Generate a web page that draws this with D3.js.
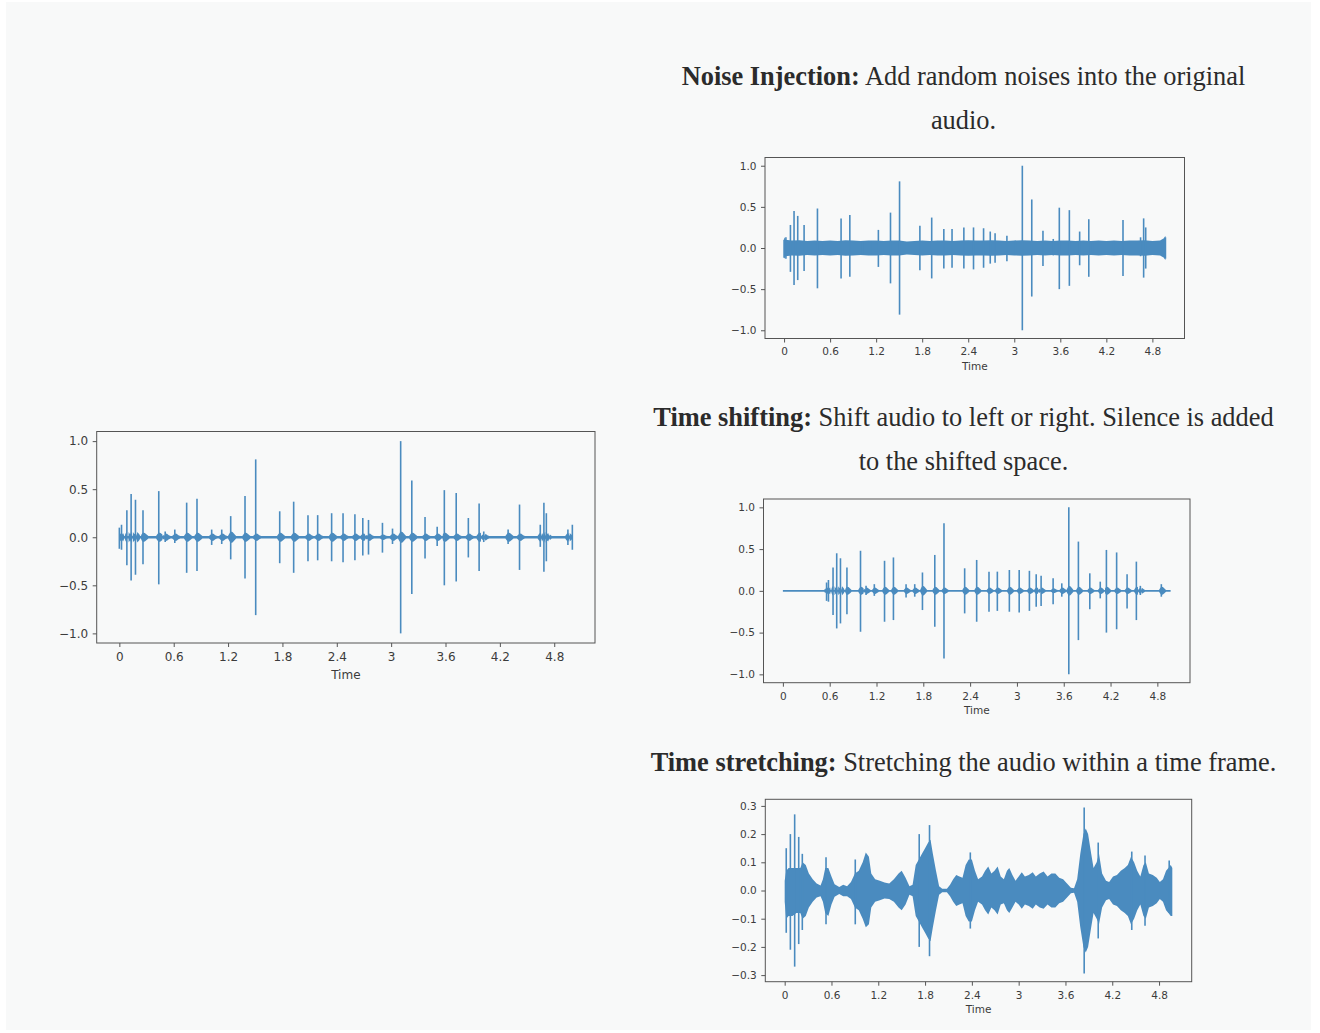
<!DOCTYPE html>
<html>
<head>
<meta charset="utf-8">
<script src="https://cdn.jsdelivr.net/npm/d3@7"></script>
<style>
  html, body { margin: 0; padding: 0; background: #ffffff; }
  svg { display: block; }
</style>
</head>
<body>
<svg id="fig" width="1320" height="1033"></svg>
<script>
// ---------------- data ----------------
const timeTicks = [0, 0.6, 1.2, 1.8, 2.4, 3.0, 3.6, 4.2, 4.8];
const timeTickLabels = ["0", "0.6", "1.2", "1.8", "2.4", "3", "3.6", "4.2", "4.8"];
const ampTicks = [-1, -0.5, 0, 0.5, 1];
const ampTickLabels = ["−1.0", "−0.5", "0.0", "0.5", "1.0"];
const stretchAmpTicks = [-0.3, -0.2, -0.1, 0, 0.1, 0.2, 0.3];
const stretchAmpTickLabels = ["−0.3", "−0.2", "−0.1", "0.0", "0.1", "0.2", "0.3"];

const clipDuration = 5.0;        // seconds, original clip
const augmentedDuration = 4.97;  // seconds, augmented clips
const shiftOffset = 0.56;        // seconds of silence inserted at the start

// original clip onsets: [time s, peak, trough, ring amplitude]
const originalOnsets = [
  [0.000, 0.10, -0.12, 0.05], [0.024, 0.13, -0.13, 0.05], [0.083, 0.28, -0.29, 0.06],
  [0.130, 0.45, -0.45, 0.06], [0.178, 0.39, -0.39, 0.06], [0.261, 0.28, -0.28, 0.05],
  [0.435, 0.48, -0.49, 0.05], [0.506, 0.06, -0.05, 0.04], [0.612, 0.08, -0.06, 0.04],
  [0.743, 0.36, -0.37, 0.05], [0.857, 0.40, -0.35, 0.05], [1.019, 0.08, -0.08, 0.04],
  [1.130, 0.08, -0.07, 0.04], [1.229, 0.22, -0.23, 0.06], [1.387, 0.43, -0.43, 0.05],
  [1.505, 0.81, -0.81, 0.04], [1.770, 0.27, -0.27, 0.05], [1.924, 0.37, -0.37, 0.05],
  [2.082, 0.23, -0.25, 0.04], [2.189, 0.23, -0.24, 0.04], [2.343, 0.25, -0.25, 0.05],
  [2.469, 0.25, -0.26, 0.04], [2.600, 0.24, -0.24, 0.04], [2.687, 0.20, -0.19, 0.04],
  [2.750, 0.18, -0.18, 0.04], [2.904, 0.15, -0.16, 0.03], [3.015, 0.09, -0.07, 0.04],
  [3.105, 1.00, -1.00, 0.06], [3.228, 0.59, -0.59, 0.05], [3.374, 0.21, -0.22, 0.04],
  [3.508, 0.11, -0.09, 0.04], [3.587, 0.49, -0.50, 0.05], [3.718, 0.46, -0.46, 0.04],
  [3.852, 0.20, -0.21, 0.04], [3.971, 0.35, -0.35, 0.05], [4.022, 0.06, -0.05, 0.04],
  [4.291, 0.08, -0.07, 0.05], [4.417, 0.34, -0.34, 0.04], [4.646, 0.13, -0.10, 0.05],
  [4.686, 0.36, -0.36, 0.06], [4.713, 0.25, -0.25, 0.05], [4.951, 0.08, -0.08, 0.05],
  [5.000, 0.13, -0.13, 0.05]
];

// injected noise floor: [time s, level]
const noiseFloor = [
  [0.00, 0.13], [0.02, 0.10], [0.10, 0.09], [0.20, 0.095], [0.30, 0.085], [0.40, 0.09],
  [0.50, 0.085], [0.60, 0.09], [0.70, 0.085], [0.80, 0.095], [0.90, 0.09], [1.00, 0.085],
  [1.10, 0.09], [1.20, 0.09], [1.30, 0.085], [1.40, 0.09], [1.50, 0.09], [1.60, 0.08],
  [1.70, 0.085], [1.80, 0.09], [1.90, 0.085], [2.00, 0.09], [2.10, 0.09], [2.20, 0.085],
  [2.30, 0.09], [2.40, 0.095], [2.50, 0.09], [2.60, 0.09], [2.70, 0.095], [2.80, 0.09],
  [2.90, 0.085], [3.00, 0.09], [3.10, 0.095], [3.20, 0.09], [3.30, 0.085], [3.40, 0.09],
  [3.50, 0.085], [3.60, 0.09], [3.70, 0.09], [3.80, 0.085], [3.90, 0.09], [4.00, 0.085],
  [4.10, 0.09], [4.20, 0.085], [4.30, 0.09], [4.40, 0.085], [4.50, 0.09], [4.60, 0.09],
  [4.70, 0.095], [4.80, 0.085], [4.90, 0.09], [4.95, 0.12], [4.97, 0.15]
];

// time-stretched clip envelope: [time s, upper, lower]
const stretchedEnvelope = [
  [0.00, 0.035, -0.04], [0.02, 0.07, -0.10], [0.05, 0.08, -0.09], [0.10, 0.08, -0.09],
  [0.15, 0.08, -0.08], [0.20, 0.08, -0.08], [0.23, 0.10, -0.10], [0.27, 0.09, -0.09],
  [0.31, 0.06, -0.06], [0.36, 0.04, -0.04], [0.41, 0.025, -0.025], [0.46, 0.018, -0.02],
  [0.49, 0.04, -0.04], [0.52, 0.08, -0.08], [0.56, 0.08, -0.09], [0.60, 0.05, -0.05],
  [0.64, 0.022, -0.022], [0.70, 0.012, -0.012], [0.75, 0.02, -0.02], [0.80, 0.015, -0.02],
  [0.85, 0.03, -0.03], [0.90, 0.06, -0.06], [0.95, 0.07, -0.07], [1.00, 0.10, -0.10],
  [1.04, 0.135, -0.13], [1.08, 0.12, -0.12], [1.11, 0.06, -0.06], [1.16, 0.04, -0.04],
  [1.22, 0.035, -0.035], [1.28, 0.028, -0.028], [1.34, 0.025, -0.03], [1.40, 0.04, -0.04],
  [1.46, 0.06, -0.06], [1.50, 0.07, -0.07], [1.55, 0.045, -0.05], [1.60, 0.015, -0.015],
  [1.64, 0.02, -0.02], [1.68, 0.09, -0.09], [1.72, 0.11, -0.11], [1.76, 0.13, -0.13],
  [1.80, 0.15, -0.15], [1.84, 0.17, -0.17], [1.87, 0.18, -0.18], [1.90, 0.13, -0.13],
  [1.94, 0.07, -0.07], [1.98, 0.015, -0.015], [2.02, 0.006, -0.006], [2.08, 0.006, -0.006],
  [2.12, 0.02, -0.02], [2.16, 0.04, -0.04], [2.20, 0.055, -0.055], [2.24, 0.05, -0.05],
  [2.28, 0.045, -0.045], [2.32, 0.09, -0.09], [2.36, 0.11, -0.11], [2.40, 0.11, -0.11],
  [2.44, 0.07, -0.07], [2.48, 0.04, -0.04], [2.53, 0.05, -0.05], [2.57, 0.07, -0.07],
  [2.61, 0.085, -0.085], [2.65, 0.06, -0.06], [2.69, 0.07, -0.07], [2.73, 0.085, -0.085],
  [2.77, 0.05, -0.05], [2.81, 0.04, -0.045], [2.85, 0.07, -0.07], [2.88, 0.08, -0.08],
  [2.92, 0.055, -0.06], [2.96, 0.035, -0.04], [3.00, 0.05, -0.05], [3.04, 0.065, -0.065],
  [3.08, 0.05, -0.05], [3.13, 0.055, -0.055], [3.18, 0.065, -0.065], [3.22, 0.05, -0.05],
  [3.27, 0.06, -0.06], [3.32, 0.067, -0.065], [3.37, 0.05, -0.05], [3.42, 0.06, -0.06],
  [3.47, 0.06, -0.06], [3.52, 0.045, -0.045], [3.57, 0.04, -0.04], [3.62, 0.025, -0.025],
  [3.67, 0.01, -0.01], [3.71, 0.008, -0.008], [3.75, 0.04, -0.04], [3.79, 0.13, -0.13],
  [3.83, 0.20, -0.20], [3.86, 0.22, -0.22], [3.89, 0.20, -0.20], [3.93, 0.13, -0.13],
  [3.96, 0.08, -0.08], [4.00, 0.10, -0.10], [4.03, 0.13, -0.12], [4.07, 0.06, -0.06],
  [4.12, 0.035, -0.035], [4.16, 0.03, -0.03], [4.21, 0.05, -0.05], [4.26, 0.055, -0.055],
  [4.31, 0.07, -0.07], [4.36, 0.08, -0.08], [4.40, 0.09, -0.09], [4.44, 0.12, -0.12],
  [4.48, 0.10, -0.10], [4.52, 0.07, -0.07], [4.56, 0.05, -0.05], [4.60, 0.09, -0.09],
  [4.63, 0.10, -0.10], [4.67, 0.06, -0.06], [4.72, 0.055, -0.055], [4.77, 0.045, -0.045],
  [4.81, 0.03, -0.03], [4.85, 0.04, -0.04], [4.89, 0.07, -0.07], [4.92, 0.08, -0.08],
  [4.95, 0.09, -0.09], [4.97, 0.08, -0.09]
];

// time-stretched clip transients: [time s, peak, trough]
const stretchedOnsets = [
  [0.020, 0.15, -0.15], [0.073, 0.20, -0.21], [0.128, 0.27, -0.27], [0.180, 0.19, -0.19],
  [0.226, 0.13, -0.14], [0.530, 0.118, -0.12], [0.905, 0.11, -0.12], [1.725, 0.20, -0.20],
  [1.857, 0.232, -0.233], [2.380, 0.135, -0.135], [3.840, 0.294, -0.294], [4.020, 0.17, -0.17],
  [4.450, 0.138, -0.14], [4.620, 0.124, -0.125], [4.930, 0.106, -0.08]
];

// ---------------- layout & style ----------------
const WAVE = "#4a8bbf";
const INK = "#2b2b2b";
const AXIS_INK = "#3c3c3c";
const SPINE = "#555555";

const svg = d3.select("#fig");
svg.append("rect").attr("x", 6).attr("y", 2).attr("width", 1305).attr("height", 1028)
  .attr("fill", "#f8f9f9");

// padded limits, 5% on each side of the data range
function padded(lo, hi) { const m = (hi - lo) * 0.05; return [lo - m, hi + m]; }

function makePanel(box, duration, ampExtent, yTicks, yLabels, fontSize) {
  const [x0, y0, x1, y1] = box;
  const g = svg.append("g").attr("transform", `translate(${x0},${y0})`);
  const w = x1 - x0, h = y1 - y0;
  const x = d3.scaleLinear().domain(padded(0, duration)).range([0, w]);
  const y = d3.scaleLinear().domain(padded(ampExtent[0], ampExtent[1])).range([h, 0]);

  const plot = g.append("g");

  const xa = g.append("g").attr("transform", `translate(0,${h})`)
    .call(d3.axisBottom(x).tickValues(timeTicks).tickFormat((d, i) => timeTickLabels[i])
      .tickSize(4).tickPadding(5.5));
  const ya = g.append("g")
    .call(d3.axisLeft(y).tickValues(yTicks).tickFormat((d, i) => yLabels[i])
      .tickSize(4).tickPadding(4.5));
  [xa, ya].forEach(a => {
    a.select(".domain").remove();
    a.attr("font-family", "DejaVu Sans").attr("font-size", fontSize);
    a.selectAll("line").attr("stroke", SPINE).attr("stroke-width", 1);
    a.selectAll("text").attr("fill", AXIS_INK);
  });
  g.append("rect").attr("x", 0).attr("y", 0).attr("width", w).attr("height", h)
    .attr("fill", "none").attr("stroke", SPINE).attr("stroke-width", 1);
  g.append("text").attr("x", w / 2).attr("y", h + fontSize * 3.0)
    .attr("text-anchor", "middle").attr("font-family", "DejaVu Sans")
    .attr("font-size", fontSize).attr("fill", AXIS_INK).text("Time");
  return { plot, x, y };
}

// thin floor plus a short lens-shaped burst around every onset
function ringBed(onsets, start, end, base) {
  const pts = [[start, base], [end, base]];
  onsets.forEach(o => {
    const t = o[0], r = o[3];
    [[t - 0.03, base], [t - 0.016, r * 0.6], [t, r], [t + 0.02, r * 0.9],
     [t + 0.04, r * 0.55], [t + 0.06, base]].forEach(p => {
      if (p[0] >= start && p[0] <= end) pts.push(p);
    });
  });
  pts.sort((a, b) => a[0] - b[0]);
  return pts;
}

function drawBed(p, pts) {
  p.plot.append("path").datum(pts)
    .attr("d", d3.area().x(d => p.x(d[0])).y0(d => p.y(-d[1])).y1(d => p.y(d[1])))
    .attr("fill", WAVE);
}

function drawOnsets(p, onsets) {
  p.plot.selectAll(null).data(onsets).join("line")
    .attr("x1", d => p.x(d[0])).attr("x2", d => p.x(d[0]))
    .attr("y1", d => p.y(d[2])).attr("y2", d => p.y(d[1]))
    .attr("stroke", WAVE).attr("stroke-width", 1.6);
}

const clampT = (t, T) => Math.min(t, T);

// --- original clip (left) ---
{
  const p = makePanel([96.7, 431.5, 595, 643], clipDuration, [-1, 1], ampTicks, ampTickLabels, 12);
  drawBed(p, ringBed(originalOnsets, 0, clipDuration, 0.012));
  drawOnsets(p, originalOnsets);
}

// --- noise injection ---
{
  const p = makePanel([765, 157.5, 1184.5, 338.5], augmentedDuration, [-1, 1], ampTicks, ampTickLabels, 10.5);
  p.plot.append("path").datum(noiseFloor)
    .attr("d", d3.area().x(d => p.x(d[0])).y0(d => p.y(-d[1])).y1(d => p.y(d[1])))
    .attr("fill", WAVE);
  drawOnsets(p, originalOnsets.map(o => [clampT(o[0], augmentedDuration), o[1], o[2], o[3]]));
}

// --- time shifting ---
{
  const p = makePanel([763.5, 499, 1190, 682.7], augmentedDuration, [-1, 1], ampTicks, ampTickLabels, 10.5);
  const shifted = originalOnsets.map(o => [o[0] + shiftOffset, o[1], o[2], o[3]])
    .filter(o => o[0] <= augmentedDuration);
  drawBed(p, ringBed(shifted, 0, augmentedDuration, 0.01));
  drawOnsets(p, shifted);
}

// --- time stretching ---
{
  const lo = d3.min(stretchedOnsets, d => d[2]), hi = d3.max(stretchedOnsets, d => d[1]);
  const p = makePanel([765.3, 799.3, 1191.7, 981.7], augmentedDuration, [lo, hi],
    stretchAmpTicks, stretchAmpTickLabels, 10.5);
  p.plot.append("path").datum(stretchedEnvelope)
    .attr("d", d3.area().x(d => p.x(d[0])).y0(d => p.y(d[2])).y1(d => p.y(d[1])))
    .attr("fill", WAVE);
  p.plot.selectAll(null).data(stretchedOnsets).join("line")
    .attr("x1", d => p.x(d[0])).attr("x2", d => p.x(d[0]))
    .attr("y1", d => p.y(d[2])).attr("y2", d => p.y(d[1]))
    .attr("stroke", WAVE).attr("stroke-width", 1.6);
}

// ---------------- captions ----------------
const captions = [
  { y: 85,  bold: "Noise Injection:", text: " Add random noises into the original" },
  { y: 129, bold: "", text: "audio." },
  { y: 426, bold: "Time shifting:", text: " Shift audio to left or right. Silence is added" },
  { y: 470, bold: "", text: "to the shifted space." },
  { y: 771, bold: "Time stretching:", text: " Stretching the audio within a time frame." }
];
const cap = svg.append("g").attr("font-family", "Liberation Serif, serif")
  .attr("font-size", 26.4).attr("fill", INK);
captions.forEach(c => {
  const t = cap.append("text").attr("x", 963.5).attr("y", c.y).attr("text-anchor", "middle");
  if (c.bold) t.append("tspan").attr("font-weight", "bold").text(c.bold);
  t.append("tspan").text(c.text);
});
</script>
</body>
</html>
